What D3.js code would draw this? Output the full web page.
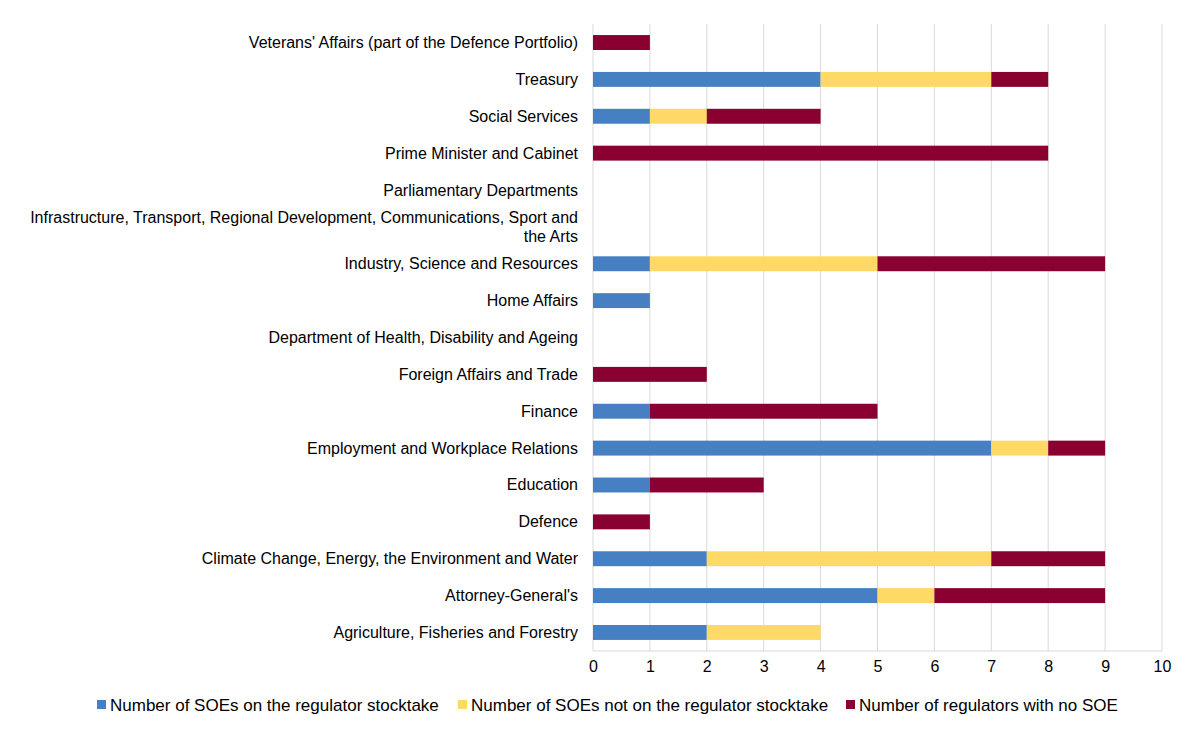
<!DOCTYPE html>
<html lang="en">
<head>
<meta charset="UTF-8">
<title>SOEs by portfolio</title>
<style>
  body { margin: 0; background: #fff; }
  text { font-family: "Liberation Sans", Arial, sans-serif; fill: #000; }
</style>
</head>
<body>
<div id="chart"></div>
<script src="https://d3js.org/d3.v7.min.js"></script>
<script>
var categories = [
  "Veterans' Affairs (part of the Defence Portfolio)",
  "Treasury",
  "Social Services",
  "Prime Minister and Cabinet",
  "Parliamentary Departments",
  "Infrastructure, Transport, Regional Development, Communications, Sport and the Arts",
  "Industry, Science and Resources",
  "Home Affairs",
  "Department of Health, Disability and Ageing",
  "Foreign Affairs and Trade",
  "Finance",
  "Employment and Workplace Relations",
  "Education",
  "Defence",
  "Climate Change, Energy, the Environment and Water",
  "Attorney-General's",
  "Agriculture, Fisheries and Forestry"
];
var onStocktake    = [0, 4, 1, 0, 0, 0, 1, 1, 0, 0, 1, 7, 1, 0, 2, 5, 2];
var notOnStocktake = [0, 3, 1, 0, 0, 0, 4, 0, 0, 0, 0, 1, 0, 0, 5, 1, 2];
var noSOE          = [1, 1, 2, 8, 0, 0, 4, 0, 0, 2, 4, 1, 2, 1, 2, 3, 0];
var seriesNames = [
  "Number of SOEs on the regulator stocktake",
  "Number of SOEs not on the regulator stocktake",
  "Number of regulators with no SOE"
];
var xTicks = [0, 1, 2, 3, 4, 5, 6, 7, 8, 9, 10];

var width = 1200, height = 738;
var colors = ["#4680C2", "#FFD966", "#8A0030"];

var rows = categories.map(function (c, i) {
  return { cat: c, s0: onStocktake[i], s1: notOnStocktake[i], s2: noSOE[i] };
});
var stacked = d3.stack().keys(["s0", "s1", "s2"])(rows);

var svg = d3.select('#chart').append('svg')
  .attr('width', width)
  .attr('height', height);

var x = d3.scaleLinear().domain([0, 10]).range([593, 1162]);
var y = d3.scaleBand().domain(categories).range([24, 651]).paddingInner(0.595).paddingOuter(0.3);

// gridlines
svg.append('g')
  .selectAll('line')
  .data(xTicks)
  .join('line')
  .attr('x1', d => x(d)).attr('x2', d => x(d))
  .attr('y1', 24).attr('y2', 651)
  .attr('stroke', '#d9d9d9')
  .attr('stroke-width', 1);

svg.append('line')
  .attr('x1', x(0)).attr('x2', x(10))
  .attr('y1', 651).attr('y2', 651)
  .attr('stroke', '#d9d9d9');

// bars
stacked.forEach(function (layer, k) {
  svg.append('g')
    .selectAll('rect')
    .data(layer)
    .join('rect')
    .attr('x', d => x(d[0]))
    .attr('width', d => x(d[1]) - x(d[0]))
    .attr('y', d => y(d.data.cat))
    .attr('height', y.bandwidth())
    .attr('fill', colors[k]);
});

// x axis labels
var xAxis = svg.append('g')
  .attr('transform', 'translate(0,651)')
  .call(d3.axisBottom(x).tickValues(xTicks).tickSize(0).tickPadding(10).tickFormat(d3.format('d')));
xAxis.select('.domain').remove();
xAxis.selectAll('text')
  .style('font-family', '"Liberation Sans", Arial, sans-serif')
  .style('font-size', '16px')
  .attr('fill', '#000');

// y axis labels with wrapping
var yAxis = svg.append('g')
  .attr('transform', 'translate(578,0)');
yAxis.selectAll('text')
  .data(categories)
  .join('text')
  .attr('x', 0)
  .attr('y', d => y(d) + y.bandwidth() / 2)
  .attr('text-anchor', 'end')
  .style('font-size', '16px')
  .each(function (d) {
    var el = d3.select(this);
    var words = d.split(' ');
    var lines = [];
    var line = [];
    var tspan = el.append('tspan');
    words.forEach(function (w) {
      line.push(w);
      tspan.text(line.join(' '));
      if (tspan.node().getComputedTextLength() > 555 && line.length > 1) {
        line.pop();
        lines.push(line.join(' '));
        line = [w];
      }
    });
    lines.push(line.join(' '));
    tspan.remove();
    var lh = 19;
    var start = -(lines.length - 1) * lh / 2;
    lines.forEach(function (t, i) {
      el.append('tspan')
        .attr('x', 0)
        .attr('dy', i === 0 ? start : lh)
        .attr('dominant-baseline', 'central')
        .text(t);
    });
  });

// legend
var legendX = [97, 458, 846];
var legend = svg.append('g');
seriesNames.forEach(function (n, i) {
  legend.append('rect')
    .attr('x', legendX[i]).attr('y', 700)
    .attr('width', 9).attr('height', 9)
    .attr('fill', colors[i]);
  legend.append('text')
    .attr('x', legendX[i] + 13).attr('y', 705)
    .attr('dominant-baseline', 'central')
    .style('font-size', '17px')
    .text(n);
});
</script>
</body>
</html>
